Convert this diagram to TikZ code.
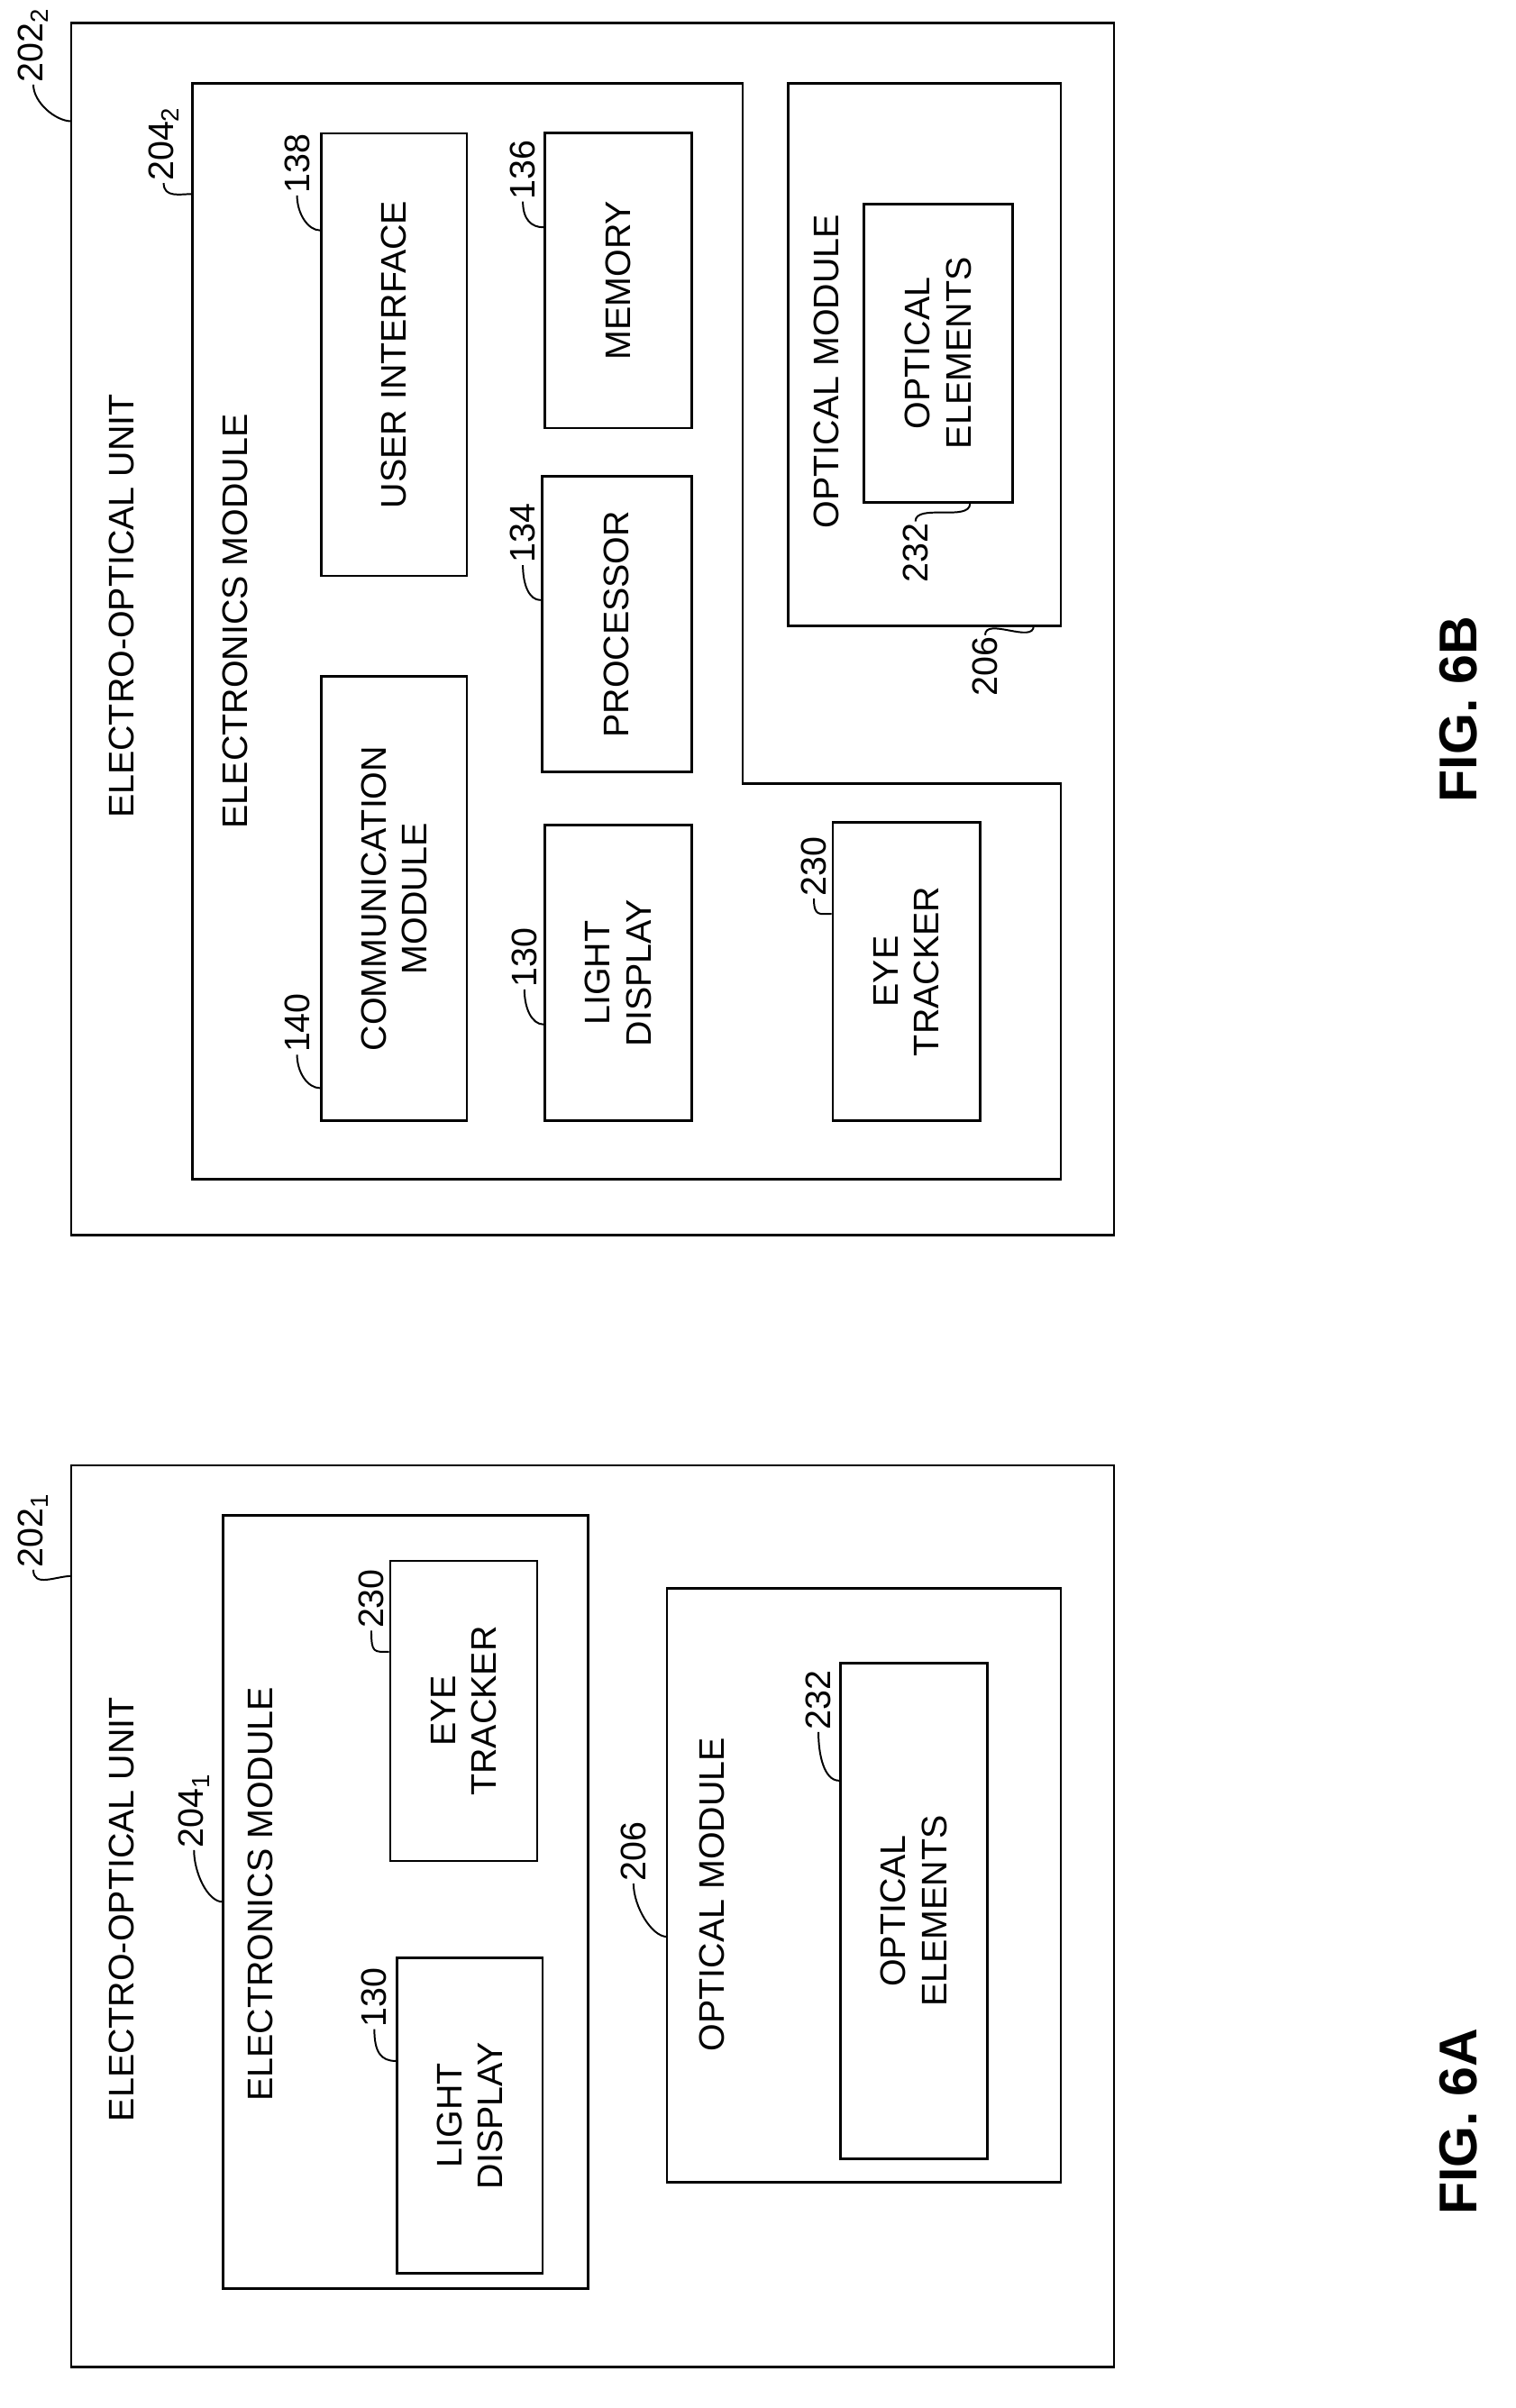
\documentclass[tikz,border=0pt]{standalone}
\usepackage{fontspec}
\setmainfont{Liberation Sans}
\begin{document}
\begin{tikzpicture}[x=0.3mm,y=-0.3mm]

      % Define styles for the boxes and labels
      \tikzstyle{unit}=[draw, line width=1.4pt]
      \tikzstyle{blk}=[rectangle, draw, line width=1.4pt, inner sep=0pt]
      \tikzstyle{txt}=[rotate=90, align=center, font=\fontsize{20}{23}\selectfont]
      \tikzstyle{lbl}=[rotate=90, font=\fontsize{20}{23}\selectfont, inner sep=1pt]
      \tikzstyle{fig}=[rotate=90, font=\fontsize{30}{34}\selectfont\bfseries]
      \tikzstyle{lead}=[line width=1pt]

      \useasboundingbox (0,0) rectangle (1000,1589);

      % FIG. 6A
      \draw[unit] (47,967) rectangle (735,1562);
      \node[txt] (eou1) at (80,1260) {ELECTRO-OPTICAL UNIT};
      \node[lbl] (l2021) at (22,1010) {202\textsubscript{1}};
      \draw[lead] (l2021.west) .. controls +(0,12) and +(-10,0) .. (47,1040);

      % Electronics module
      \draw[unit] (147,1000) rectangle (388,1510);
      \node[txt] (em1) at (172,1250) {ELECTRONICS MODULE};
      \node[lbl] (l2041) at (128,1195) {204\textsubscript{1}};
      \node[blk, minimum width=29.1mm, minimum height=59.4mm] (et1) at (306,1129) {};
      \node[txt] at (et1.center) {EYE\\TRACKER};
      \node[lbl] (l230a) at (245,1055) {230};
      \draw[lead] (l230a.west) .. controls +(0,15) and +(-10,0) .. (et1.west |- 0,1090);
      \node[blk, minimum width=28.8mm, minimum height=62.4mm] (ld1) at (310,1396) {};
      \node[txt] at (ld1.center) {LIGHT\\DISPLAY};
      \node[lbl] (l130a) at (247,1318) {130};
      \draw[lead] (l130a.west) .. controls +(0,15) and +(-10,0) .. (ld1.west |- 0,1360);
      \draw[lead] (l2041.west) .. controls +(0,15) and +(-10,0) .. (147,1255);

      % Optical module
      \draw[unit] (440,1048) rectangle (700,1440);
      \node[txt] (om1) at (470,1250) {OPTICAL MODULE};
      \node[lbl] (l206a) at (418,1222) {206};
      \draw[lead] (l206a.west) .. controls +(0,15) and +(-10,0) .. (440,1278);
      \node[blk, minimum width=29.1mm, minimum height=98.1mm] (oe1) at (603,1261) {};
      \node[txt] at (oe1.center) {OPTICAL\\ELEMENTS};
      \node[lbl] (l232a) at (540,1122) {232};
      \draw[lead] (l232a.west) .. controls +(0,15) and +(-10,0) .. (oe1.west |- 0,1175);

      \node[fig] (f6a) at (962,1400) {FIG. 6A};

      % FIG. 6B
      \draw[unit] (47,15) rectangle (735,815);
      \node[txt] (eou2) at (80,400) {ELECTRO-OPTICAL UNIT};
      \node[lbl] (l2022) at (22,30) {202\textsubscript{2}};
      \draw[lead] (l2022.west) .. controls +(0,12) and +(-10,0) .. (47,80);

      % Electronics module
      \draw[unit] (127,55) -- (490,55) -- (490,517) -- (700,517) -- (700,778) -- (127,778) -- cycle;
      \node[txt] (em2) at (155,410) {ELECTRONICS MODULE};
      \node[lbl] (l2042) at (108,95) {204\textsubscript{2}};
      \draw[lead] (l2042.west) .. controls +(0,10) and +(-8,0) .. (127,128);
      \node[blk, minimum width=28.8mm, minimum height=87.9mm] (cm) at (260,593) {};
      \node[txt] at (cm.center) {COMMUNICATION\\MODULE};
      \node[lbl] (l140) at (196,675) {140};
      \draw[lead] (l140.west) .. controls +(0,12) and +(-8,0) .. (cm.west |- 0,718);
      \node[blk, minimum width=28.8mm, minimum height=87.6mm] (ui) at (260,234) {};
      \node[txt] at (ui.center) {USER INTERFACE};
      \node[lbl] (l138) at (196,108) {138};
      \draw[lead] (l138.west) .. controls +(0,12) and +(-8,0) .. (ui.west |- 0,152);
      \node[blk, minimum width=29.1mm, minimum height=58.5mm] (ld2) at (408,642) {};
      \node[txt] at (ld2.center) {LIGHT\\DISPLAY};
      \node[lbl] (l130b) at (346,632) {130};
      \draw[lead] (l130b.west) .. controls +(0,12) and +(-8,0) .. (ld2.west |- 0,676);
      \node[blk, minimum width=29.7mm, minimum height=58.5mm] (pr) at (407,412) {};
      \node[txt] at (pr.center) {PROCESSOR};
      \node[lbl] (l134) at (345,352) {134};
      \draw[lead] (l134.west) .. controls +(0,12) and +(-8,0) .. (pr.west |- 0,396);
      \node[blk, minimum width=29.1mm, minimum height=58.5mm] (me) at (408,185) {};
      \node[txt] at (me.center) {MEMORY};
      \node[lbl] (l136) at (345,112) {136};
      \draw[lead] (l136.west) .. controls +(0,12) and +(-8,0) .. (me.west |- 0,150);
      \node[blk, minimum width=29.1mm, minimum height=59.1mm] (et2) at (598,641) {};
      \node[txt] at (et2.center) {EYE\\TRACKER};
      \node[lbl] (l230b) at (537,572) {230};
      \draw[lead] (l230b.west) .. controls +(0,12) and +(-8,0) .. (et2.west |- 0,603);

      % Optical module
      \draw[unit] (520,55) rectangle (700,413);
      \node[txt] (om2) at (545,245) {OPTICAL MODULE};
      \node[blk, minimum width=29.4mm, minimum height=59.1mm] (oe2) at (619,233) {};
      \node[txt] at (oe2.center) {OPTICAL\\ELEMENTS};
      \node[lbl] (l232b) at (604,365) {232};
      \draw[lead] (l232b.east) .. controls +(0,-12) and +(0,12) .. (oe2.south -| 640,0);
      \node[lbl] (l206b) at (650,440) {206};
      \draw[lead] (l206b.east) .. controls +(0,-12) and +(0,12) .. (682,413);

      \node[fig] (f6b) at (962,468) {FIG. 6B};

\end{tikzpicture}
\end{document}
